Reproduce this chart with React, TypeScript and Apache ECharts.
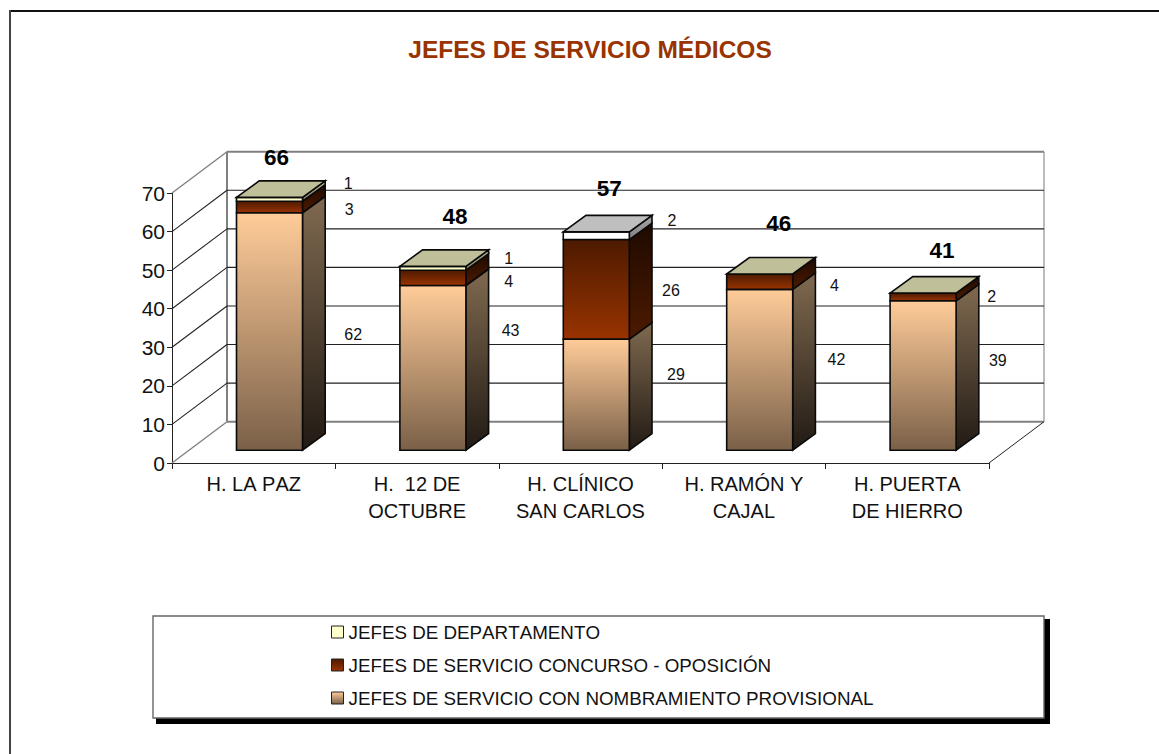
import React, { useEffect, useRef } from "react";
import * as echarts from "echarts";

const hospitals = ["H. LA PAZ", "H.  12 DE\nOCTUBRE", "H. CLÍNICO\nSAN CARLOS", "H. RAMÓN Y\nCAJAL", "H. PUERTA\nDE HIERRO"];
const provisional = [62, 43, 29, 42, 39];
const concurso = [3, 4, 26, 4, 2];
const departamento = [1, 1, 2, 0, 0];
const totals = [66, 48, 57, 46, 41];
const yTicks = [0, 10, 20, 30, 40, 50, 60, 70];
const seriesNames = [
  "JEFES DE SERVICIO CON NOMBRAMIENTO PROVISIONAL",
  "JEFES DE SERVICIO CONCURSO - OPOSICIÓN",
  "JEFES DE DEPARTAMENTO",
];

// hand placed data labels of the original, as pixel nudges [dx from the bar's back edge, dy from the segment's middle]
const provisionalNudge = [[28, 3], [22, -37], [24, -20], [21, -10], [19, -15]];
const concursoNudge = [[24, 3], [20, 4], [19, 1], [19, 4], [13, 0]];
const departamentoNudge = [[23, -16], [20, -10], [20, -15], [0, 0], [0, 0]];
const totalNudge = [[7, -40], [22, -50], [13, -43], [19, -51], [19, -43]];

const WALL_DX = 55;
const WALL_DY = 41.3;
const BAR_SHIFT_X = 15.8;
const BAR_SHIFT_Y = 12.8;
const BAR_DX = 22.7;
const BAR_DY = 16.5;
const BAR_RATIO = 0.404;
const BAR_SCALE = 0.993;

const grad = (top: string, bottom: string) =>
  new echarts.graphic.LinearGradient(0, 0, 0, 1, [
    { offset: 0, color: top },
    { offset: 1, color: bottom },
  ]);

const peachFill = { front: ["#FFCC99", "#7A6048"], side: ["#806A50", "#211A14"] };
const maroonFill = { front: ["#4D1A00", "#993300"], side: ["#1E0A00", "#4D1A00"] };
const yellowFill = { front: ["#FFFFCC", "#FFFFCC"], side: ["#BFBF99", "#808066"], top: "#BFBF99" };
const whiteFill = { front: ["#FFFFFF", "#FFFFFF"], side: ["#A6A6A6", "#808080"], top: "#BFBFBF" };

const EDGE = { stroke: "#0A0A0A", lineWidth: 1.6 };

function barSeries(level: number, values: number[], below: number[], nudge: number[][]) {
  return {
    type: "custom",
    name: seriesNames[level],
    silent: true,
    z: 3,
    itemStyle: { color: level === 0 ? grad(peachFill.front[0], peachFill.front[1]) : level === 1 ? grad(maroonFill.front[0], maroonFill.front[1]) : "#FFFFCC" },
    data: values.map((v, i) => [i, v]),
    encode: { x: 0, y: 1 },
    renderItem: (params: any, api: any) => {
      const i = api.value(0);
      const v = values[i];
      const c0 = api.coord([i, 0]);
      const w = api.size([1, 0])[0] * BAR_RATIO;
      const x0 = c0[0] + BAR_SHIFT_X - w / 2;
      const x1 = x0 + w;
      const base = c0[1] - BAR_SHIFT_Y;
      const yOf = (val: number) => base - (c0[1] - api.coord([i, val])[1]) * BAR_SCALE;
      const yb = yOf(below[i]);
      const yt = yOf(below[i] + v);
      const fill = level === 0 ? peachFill : level === 1 ? maroonFill : i === 2 ? whiteFill : yellowFill;
      const children: any[] = [];
      if (v > 0) {
        children.push({
          type: "polygon",
          shape: { points: [[x1, yt], [x1 + BAR_DX, yt - BAR_DY], [x1 + BAR_DX, yb - BAR_DY], [x1, yb]] },
          style: { fill: grad(fill.side[0], fill.side[1]), ...EDGE },
        });
        children.push({
          type: "rect",
          shape: { x: x0, y: yt, width: w, height: yb - yt },
          style: { fill: grad(fill.front[0], fill.front[1]), ...EDGE },
        });
        const lx = x1 + BAR_DX + nudge[i][0];
        const ly = (yb + yt) / 2 + nudge[i][1];
        children.push({
          type: "text",
          x: lx,
          y: ly,
          style: { text: String(v), fontFamily: "Liberation Sans", fontSize: 16, fill: "#111", align: "center", verticalAlign: "middle" },
        });
      }
      if (level === 2) {
        children.push({
          type: "polygon",
          shape: { points: [[x0, yt], [x0 + BAR_DX, yt - BAR_DY], [x1 + BAR_DX, yt - BAR_DY], [x1, yt]] },
          style: { fill: (fill as any).top, ...EDGE },
        });
        children.push({
          type: "text",
          x: (x0 + x1) / 2 + totalNudge[i][0],
          y: yt + totalNudge[i][1],
          style: { text: String(totals[i]), fontFamily: "Liberation Sans", fontWeight: "bold", fontSize: 22.5, fill: "#000", align: "center", verticalAlign: "middle" },
        });
      }
      return { type: "group", children };
    },
  };
}

const wallSeries = {
  type: "custom",
  name: "walls",
  silent: true,
  z: 1,
  data: yTicks.map((t) => [0, t]),
  encode: { x: 0, y: 1 },
  renderItem: (params: any, api: any) => {
    const t = api.value(1);
    const y = api.coord([0, t])[1];
    const xL = params.coordSys.x;
    const xR = xL + params.coordSys.width;
    const edge = t === 0 || t === 70;
    const style = edge ? { stroke: "#808080", lineWidth: 2 } : { stroke: "#222", lineWidth: 1.1 };
    const children: any[] = [
      { type: "line", shape: { x1: xL + WALL_DX, y1: y - WALL_DY, x2: xR + WALL_DX, y2: y - WALL_DY }, style },
      { type: "line", shape: { x1: xL, y1: y, x2: xL + WALL_DX, y2: y - WALL_DY }, style: edge ? { stroke: "#808080", lineWidth: 1.4 } : style },
    ];
    if (t === 0) {
      const yTop = api.coord([0, 70])[1] - WALL_DY;
      children.push({ type: "line", shape: { x1: xL + WALL_DX, y1: y - WALL_DY, x2: xL + WALL_DX, y2: yTop }, style });
      children.push({ type: "line", shape: { x1: xR + WALL_DX, y1: y - WALL_DY, x2: xR + WALL_DX, y2: yTop }, style: { stroke: "#A0A0A0", lineWidth: 1.4 } });
      children.push({ type: "line", shape: { x1: xR, y1: y, x2: xR + WALL_DX, y2: y - WALL_DY }, style: { stroke: "#222", lineWidth: 1 } });
    }
    return { type: "group", children };
  },
};

const concursoBelow = provisional;
const departamentoBelow = provisional.map((v, i) => v + concurso[i]);

export default function App() {
  const ref = useRef<HTMLDivElement>(null);
  useEffect(() => {
    const chart = echarts.init(ref.current!, null, { renderer: "svg" });
    chart.setOption({
      animation: false,
      backgroundColor: "#fff",
      textStyle: { fontFamily: "Liberation Sans" },
      title: {
        text: "JEFES DE SERVICIO MÉDICOS",
        left: 585,
        top: 32,
        textAlign: "center",
        textStyle: { fontFamily: "Liberation Sans", fontWeight: "bold", fontSize: 24.5, color: "#993300" },
      },
      grid: { left: 172, width: 817, top: 193, height: 270 },
      xAxis: {
        type: "category",
        data: hospitals,
        axisLine: { lineStyle: { color: "#222", width: 1 } },
        axisTick: { show: true, length: 6, lineStyle: { color: "#222" } },
        axisLabel: { fontFamily: "Liberation Sans", fontSize: 20, color: "#111", lineHeight: 27, margin: 7, interval: 0 },
      },
      yAxis: {
        type: "value",
        min: 0,
        max: 70,
        interval: 10,
        splitLine: { show: false },
        axisLine: { show: true, lineStyle: { color: "#222", width: 1 } },
        axisTick: { show: true, length: 5, lineStyle: { color: "#222" } },
        axisLabel: { fontFamily: "Liberation Sans", fontSize: 21, color: "#111", margin: 7 },
      },
      legend: {
        orient: "vertical",
        left: 326,
        top: 617,
        selectedMode: false,
        itemWidth: 12,
        itemHeight: 12,
        itemGap: 13,
        textStyle: { fontFamily: "Liberation Sans", fontSize: 18.8, color: "#111", lineHeight: 20 },
        data: [
          { name: seriesNames[2], icon: "rect", itemStyle: { color: "#FFFFCC", borderColor: "#222", borderWidth: 1 } },
          { name: seriesNames[1], icon: "rect", itemStyle: { color: grad(maroonFill.front[0], maroonFill.front[1]), borderColor: "#222", borderWidth: 1 } },
          { name: seriesNames[0], icon: "rect", itemStyle: { color: grad("#FFCC99", "#7A6048"), borderColor: "#222", borderWidth: 1 } },
        ],
      },
      graphic: [
        { type: "line", shape: { x1: 9, y1: 11, x2: 1159, y2: 11 }, style: { stroke: "#111", lineWidth: 2 }, z: 0 },
        { type: "line", shape: { x1: 10, y1: 10, x2: 10, y2: 754 }, style: { stroke: "#444", lineWidth: 2 }, z: 0 },
        { type: "rect", shape: { x: 156, y: 619, width: 894, height: 105 }, style: { fill: "#000" }, z: 0 },
        { type: "rect", shape: { x: 153, y: 616, width: 891, height: 102 }, style: { fill: "#fff", stroke: "#666", lineWidth: 1.4 }, z: 0 },
      ],
      series: [
        wallSeries,
        barSeries(0, provisional, provisional.map(() => 0), provisionalNudge),
        barSeries(1, concurso, concursoBelow, concursoNudge),
        barSeries(2, departamento, departamentoBelow, departamentoNudge),
      ],
    });
    return () => chart.dispose();
  }, []);
  return <div ref={ref} style={{ position: "fixed", left: 0, top: 0, width: 1159, height: 754, fontKerning: "none" }} />;
}
